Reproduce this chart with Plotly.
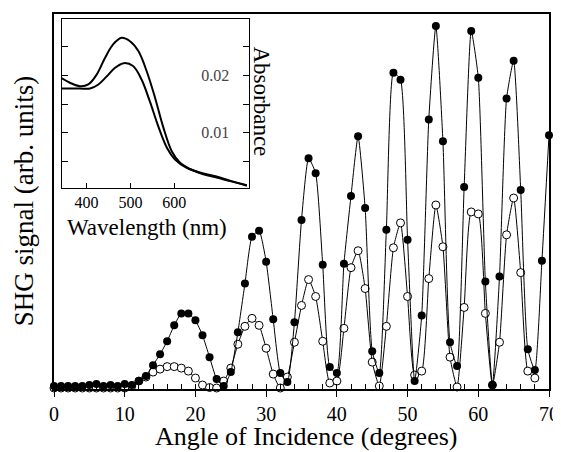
import plotly.graph_objects as go

# ---------------- data ----------------
angles = list(range(0, 71))
filled_signal = [3, 3, 3, 3, 3, 4, 5, 3, 4, 3, 5, 4, 8, 13, 24, 35, 48, 64, 76, 76,
                 69, 54, 32, 10, 3, 17, 57, 106, 153, 159, 128, 70, 16, 7, 67, 170,
                 232, 217, 125, 22, 16, 126, 194, 254, 182, 38, 16, 160, 318, 311,
                 150, 8, 74, 271, 365, 249, 47, 23, 203, 360, 313, 108, 4, 113, 292,
                 330, 200, 40, 19, 129, 255]
open_angles = list(range(0, 69))
open_signal = [1, 1, 1, 1, 1, 1, 1, 1, 1, 1, 1, 3, 8, 12, 17, 20, 22.5, 22.5, 21, 18,
               11, 4, 1.5, 1, 8, 21, 45, 63, 71, 64, 41, 15, 1, 12, 47, 84, 110, 93,
               48, 6, 8, 61, 122, 139, 101, 27, 3, 63, 142, 167, 93, 14, 18, 111, 185,
               143, 32, 2, 82, 178, 176, 76, 4, 47, 155, 192, 117, 18, 11]

x_ticks = [0, 10, 20, 30, 40, 50, 60, 70]

wl_upper = [343, 362, 385, 404, 423, 442, 461, 480, 499, 518, 537, 556, 575, 594,
            613, 636, 666, 696, 727, 765]
abs_upper = [0.0195, 0.0187, 0.0181, 0.0184, 0.0201, 0.0230, 0.0254, 0.0265, 0.0259,
             0.0242, 0.0207, 0.0161, 0.0109, 0.0068, 0.0048, 0.0037, 0.0028, 0.0022,
             0.0016, 0.0008]
wl_lower = [343, 362, 385, 408, 427, 446, 465, 485, 506, 525, 544, 563, 583, 601,
            628, 658, 696, 730, 765]
abs_lower = [0.0177, 0.0177, 0.0177, 0.0177, 0.0184, 0.0198, 0.0213, 0.0221, 0.0216,
             0.0193, 0.0155, 0.0112, 0.0074, 0.0054, 0.0039, 0.0031, 0.0024, 0.0016,
             0.0009]
inset_x_ticks = [400, 500, 600, 700]
inset_y_ticks = [0.005, 0.01, 0.015, 0.02, 0.025]
inset_y_labels = ["", "0.01", "", "0.02", ""]

FONT = "Liberation Serif"

fig = go.Figure()

fig.add_trace(go.Scatter(
    x=open_angles, y=open_signal, mode="lines+markers",
    line=dict(color="black", width=1, shape="spline", smoothing=0.5),
    marker=dict(symbol="circle", size=8, color="white",
                line=dict(color="black", width=1)),
    cliponaxis=False, showlegend=False))
fig.add_trace(go.Scatter(
    x=angles, y=filled_signal, mode="lines+markers",
    line=dict(color="black", width=1, shape="spline", smoothing=0.5),
    marker=dict(symbol="circle", size=8, color="black"),
    cliponaxis=False, showlegend=False))

# inset spectra
fig.add_trace(go.Scatter(x=wl_upper, y=abs_upper, mode="lines",
                         line=dict(color="black", width=2, shape="spline"),
                         xaxis="x2", yaxis="y2", showlegend=False))
fig.add_trace(go.Scatter(x=wl_lower, y=abs_lower, mode="lines",
                         line=dict(color="black", width=2, shape="spline"),
                         xaxis="x2", yaxis="y2", showlegend=False))

# the page adds an 8px body margin, so the margins are shifted by 8px
fig.update_layout(
    width=561, height=452,
    margin=dict(l=46, r=20, t=4, b=71),
    paper_bgcolor="white", plot_bgcolor="white",
    font=dict(family=FONT, color="black"),
    xaxis=dict(range=[0, 70], tickvals=x_ticks, ticks="outside", ticklen=6,
               tickwidth=1, tickcolor="black", showgrid=False, zeroline=False,
               showline=True, linecolor="black", linewidth=1.5, mirror=True,
               tickfont=dict(size=20, family=FONT),
               minor=dict(dtick=2, ticks="inside", ticklen=5, tickcolor="black",
                          tickwidth=1, showgrid=False)),
    yaxis=dict(range=[0, 377], showticklabels=False, ticks="", showgrid=False,
               zeroline=False, showline=True, linecolor="black", linewidth=1.5,
               mirror=True),
    xaxis2=dict(domain=[0.016, 0.394], anchor="y2", range=[344, 770],
                tickvals=inset_x_ticks, ticks="inside", ticklen=5,
                tickcolor="black", showgrid=False, zeroline=False, showline=True,
                linecolor="black", linewidth=1, mirror=True,
                tickfont=dict(size=16, family=FONT)),
    yaxis2=dict(domain=[0.536, 0.987], anchor="x2", side="right",
                range=[0.0004, 0.0298], tickvals=inset_y_ticks,
                ticktext=inset_y_labels, ticks="inside", ticklen=6,
                tickcolor="black", ticklabelposition="inside",
                ticklabelstandoff=14, showgrid=False, zeroline=False,
                showline=True, linecolor="black", linewidth=1, mirror="ticks",
                tickfont=dict(size=16, family=FONT)),
    annotations=[
        dict(text="Angle of Incidence (degrees)", xref="paper", yref="paper",
             x=0.509, y=-0.127, xanchor="center", yanchor="middle",
             showarrow=False, font=dict(size=26, family=FONT)),
        dict(text="SHG signal (arb. units)", xref="paper", yref="paper",
             x=-0.061, y=0.50, xanchor="center", yanchor="middle",
             textangle=-90, showarrow=False, font=dict(size=27, family=FONT)),
        dict(text="Wavelength (nm)", xref="paper", yref="paper",
             x=0.188, y=0.432, xanchor="center", yanchor="middle",
             showarrow=False, font=dict(size=23, family=FONT)),
        dict(text="Absorbance", xref="paper", yref="paper",
             x=0.420, y=0.767, xanchor="center", yanchor="middle",
             textangle=90, showarrow=False, font=dict(size=23, family=FONT)),
    ],
)

fig.write_html("out.html")
